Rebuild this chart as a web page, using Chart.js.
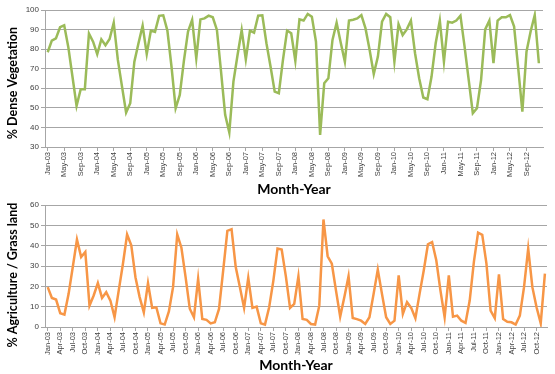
<!DOCTYPE html>
<html>
<head>
<meta charset="utf-8">
<script src="https://cdn.jsdelivr.net/npm/chart.js@4"></script>
<style>
  body { margin: 0; background: #fff; width: 555px; height: 374px; position: relative; overflow: hidden; }
  canvas { position: absolute; left: 0; }
  #vegChart { top: 0; }
  #agriChart { top: 196px; }
</style>
</head>
<body>
<canvas id="vegChart" width="555" height="200"></canvas>
<canvas id="agriChart" width="555" height="178"></canvas>
<script>
// month labels Jan-03 .. Dec-12
const monthNames = ['Jan', 'Feb', 'Mar', 'Apr', 'May', 'Jun', 'Jul', 'Aug', 'Sep', 'Oct', 'Nov', 'Dec'];
const years = ['03', '04', '05', '06', '07', '08', '09', '10', '11', '12'];
const months = years.flatMap(y => monthNames.map(m => m + '-' + y));

// % dense vegetation, one value per month
const denseVeg = [
  78.4, 84.4, 85.5, 91.2, 92.2, 81, 66, 51, 59.5, 59.5, 88, 83.8,
  77.4, 85, 82, 85.2, 93.5, 74.5, 61, 47.6, 52.4, 73.6, 83, 92,
  77.5, 89.5, 88.8, 97, 97.3, 89.5, 71, 49.8, 56.6, 74, 89, 95,
  75.3, 95.2, 95.7, 97.1, 96.3, 89.8, 68.5, 46.4, 37.4, 63.4, 77, 89.8,
  74.8, 89.5, 88.4, 97.1, 97.3, 83, 71, 58.3, 57.5, 74.5, 89.5, 88.1,
  74, 95.2, 94.6, 98, 96.6, 83.8, 36.2, 62.6, 65.1, 84.7, 93.5, 83.3,
  73.6, 94.6, 95, 95.7, 97.4, 90.6, 79.6, 67.3, 76.2, 94, 98, 96.3,
  73.6, 92.7, 87.2, 90.1, 94.6, 77.9, 65.1, 55.3, 54.4, 66, 83, 94.6,
  73.6, 94, 93.5, 94.6, 97.1, 81.3, 64.3, 47.3, 49.8, 64.3, 90.1, 94.6,
  72.8, 94.6, 96.3, 96.3, 97.4, 91.5, 70.2, 48.1, 78.7, 89, 97.4, 72.8
];

// % agriculture / grass land, one value per month
const agriGrass = [
  19.6, 14.3, 13.5, 6.8, 6.1, 16.3, 29.5, 43, 34.4, 36.9, 10.5, 15.5,
  21.6, 14.3, 17.1, 13, 4.8, 18, 31, 45.5, 40.2, 24.5, 14.7, 7.2,
  21.6, 9.4, 9.7, 1.8, 1.2, 7.7, 19.6, 45.5, 39, 24.5, 9, 4.8,
  23.7, 3.9, 3.5, 1.8, 2.3, 8.9, 27.8, 47.3, 48.1, 29.5, 19.6, 9.4,
  24.2, 9.4, 10, 1.8, 1.2, 9.7, 22.7, 38.6, 38.1, 24.9, 9.4, 11.4,
  24.9, 3.9, 3.5, 1.5, 1.2, 10.5, 52.9, 34.8, 31.1, 17.9, 5.1, 14.7,
  25, 4.4, 3.9, 3.1, 1.5, 4.8, 16.3, 28.2, 16.3, 4.8, 1.5, 3.1,
  25.4, 6.4, 12.2, 9.4, 4.3, 16.3, 27.8, 40.7, 41.8, 32.8, 17.9, 4.8,
  25.4, 5.1, 5.6, 3.1, 2, 13, 32, 46.4, 45.3, 31.3, 8.1, 4.4,
  25.9, 3.9, 2.6, 2.3, 1.2, 5.6, 19.6, 38.6, 19.6, 9.7, 1.8, 26.2
];

const gridGrey = '#a6a6a6';
const tickGrey = '#404040';

function makeChart(id, values, color, yTitle, yMin, yMax, labelEvery, xMax, pad, xAxisH, titlePadBottom) {
  const ctx = document.getElementById(id).getContext('2d');
  return new Chart(ctx, {
    type: 'line',
    data: {
      datasets: [{
        data: values.map((v, i) => ({ x: i, y: v })),
        borderColor: color,
        borderWidth: 2.5,
        pointRadius: 0,
        tension: 0,
        fill: false
      }]
    },
    options: {
      responsive: false,
      animation: false,
      layout: { padding: pad },
      plugins: { legend: { display: false }, tooltip: { enabled: false } },
      scales: {
        x: {
          type: 'linear',
          min: -0.65,
          max: xMax,
          afterFit: (s) => { s.height = xAxisH; },
          grid: { drawOnChartArea: false, color: gridGrey, tickLength: 4 },
          border: { color: gridGrey },
          ticks: {
            stepSize: labelEvery,
            includeBounds: false,
            autoSkip: false,
            minRotation: 90,
            maxRotation: 90,
            padding: 1,
            color: tickGrey,
            font: { family: 'Liberation Sans', size: 7.5 },
            callback: (v) => {
              const i = Math.round(v);
              return (i % labelEvery === 0 && months[i]) ? months[i] : null;
            }
          },
          title: {
            display: true,
            text: 'Month-Year',
            color: '#000',
            font: { family: 'Lato', size: 14, weight: 'bold' },
            padding: { top: 0, bottom: titlePadBottom }
          }
        },
        y: {
          min: yMin,
          max: yMax,
          afterFit: (s) => { s.width = 45; },
          grid: { color: gridGrey, tickLength: 4 },
          border: { color: gridGrey },
          ticks: {
            stepSize: 10,
            padding: 2,
            color: tickGrey,
            font: { family: 'Liberation Sans', size: 8 }
          },
          title: {
            display: true,
            text: yTitle,
            color: '#000',
            font: { family: 'Lato', size: 12.5, weight: 'bold' },
            padding: { top: 5, bottom: 0 }
          }
        }
      }
    }
  });
}

// trailing spaces nudge the rotated titles a little below the plot centre, as in the original
makeChart('vegChart', denseVeg, '#9bbb59', '% Dense Vegetation   ', 30, 100, 4, 120,
  { top: 10, right: 12, left: 0, bottom: 0 }, 53, 2.6);
makeChart('agriChart', agriGrass, '#f79646', '% Agriculture / Grass land      ', 0, 60, 3, 119.5,
  { top: 9, right: 8, left: 0, bottom: 0 }, 47, 0.6);
</script>
</body>
</html>
